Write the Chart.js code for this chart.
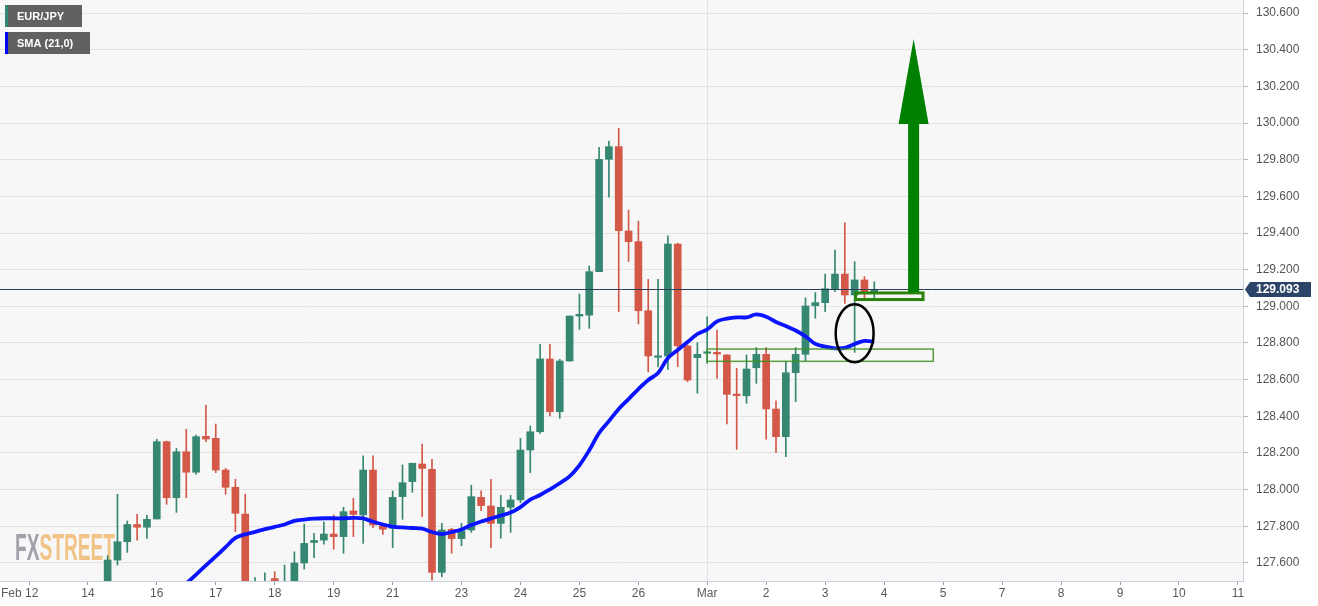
<!DOCTYPE html>
<html>
<head>
<meta charset="utf-8">
<script src="https://cdn.jsdelivr.net/npm/chart.js@4/dist/chart.umd.min.js"></script>
<style>
  html, body { margin: 0; padding: 0; background: #ffffff; }
  #wrap { width: 1318px; height: 606px; position: relative; }
</style>
</head>
<body>
<div id="wrap"><canvas id="c"></canvas></div>
<script>
// ---- Data (4-hour candles, slot index on the x axis) ----
const tickIndex  = [0, 6, 13, 19, 25, 31, 37, 44, 50, 56, 62, 69, 75, 81, 87, 93, 99, 105, 111, 117, 123];
const tickLabels = ['Feb 12','14','16','17','18','19','21','23','24','25','26','Mar','2','3','4','5','7','8','9','10','11'];

const candleStart = 8;
const opens = [
  127.400,127.616,127.716,127.810,127.795,127.840,128.262,127.956,128.207,128.095,
  128.291,128.280,128.107,128.013,127.867,127.440,127.470,127.515,127.470,127.495,
  127.600,127.712,127.725,127.758,127.744,127.884,127.862,128.107,127.802,127.789,
  127.962,128.044,128.140,128.111,127.549,127.784,127.733,127.780,127.958,127.911,
  127.816,127.904,127.944,128.216,128.316,128.713,128.425,128.702,128.947,128.952,
  129.189,129.802,129.871,129.411,129.353,128.976,128.722,128.729,129.340,128.784,
  128.720,128.744,128.749,128.735,128.518,128.512,128.665,128.738,128.440,128.289,
  128.638,128.738,129.004,129.020,129.096,129.176,129.062,129.144,129.071
];
const highs = [
  127.640,127.975,127.829,127.866,127.860,128.275,128.265,128.225,128.329,128.298,
  128.462,128.358,128.116,128.057,127.975,127.520,127.547,127.553,127.589,127.661,
  127.813,127.762,127.825,127.862,127.904,127.953,128.184,128.184,127.805,127.993,
  128.135,128.144,128.249,128.165,127.816,127.790,127.816,128.024,127.994,128.056,
  127.969,127.969,128.280,128.347,128.793,128.793,128.711,128.947,129.067,129.220,
  129.867,129.902,129.971,129.525,129.465,129.147,129.147,129.384,129.344,128.790,
  128.802,128.943,128.871,128.735,128.662,128.735,128.775,128.775,128.485,128.698,
  128.775,129.046,129.075,129.176,129.307,129.456,129.244,129.162,129.134
];
const lows = [
  127.360,127.589,127.658,127.725,127.734,127.840,127.920,127.876,127.956,128.084,
  128.262,128.093,127.975,127.771,127.400,127.400,127.420,127.430,127.450,127.470,
  127.567,127.629,127.703,127.675,127.653,127.744,127.707,127.793,127.756,127.684,
  127.838,127.986,127.853,127.507,127.525,127.653,127.694,127.767,127.885,127.684,
  127.735,127.767,127.929,128.093,128.307,128.402,128.389,128.700,128.874,128.880,
  129.189,129.595,128.971,129.244,128.904,128.643,128.670,128.656,128.671,128.589,
  128.526,128.689,128.607,128.358,128.220,128.471,128.580,128.275,128.202,128.180,
  128.480,128.702,128.935,128.971,129.080,129.016,128.749,129.044,129.044
];
const closes = [
  127.616,127.716,127.810,127.795,127.838,128.262,127.956,128.207,128.095,128.289,
  128.276,128.107,128.013,127.871,127.450,127.470,127.500,127.490,127.495,127.600,
  127.707,127.723,127.758,127.744,127.880,127.865,128.107,127.807,127.784,127.958,
  128.038,128.144,128.116,127.549,127.780,127.733,127.776,127.962,127.913,127.816,
  127.904,127.944,128.216,128.316,128.713,128.425,128.702,128.947,128.956,129.189,
  129.802,129.871,129.413,129.353,128.976,128.729,128.728,129.340,128.784,128.598,
  128.738,128.749,128.740,128.520,128.513,128.658,128.738,128.440,128.289,128.638,
  128.738,129.002,129.020,129.096,129.176,129.062,129.144,129.071,129.093
];

const smaStart = 15;
const smaValues = [
  127.440,127.488,127.537,127.587,127.636,127.686,127.737,127.756,127.770,127.785,
  127.797,127.810,127.830,127.837,127.842,127.844,127.844,127.844,127.846,127.843,
  127.825,127.810,127.799,127.794,127.791,127.788,127.769,127.758,127.769,127.783,
  127.807,127.826,127.843,127.859,127.875,127.905,127.946,127.971,128.002,128.035,
  128.073,128.133,128.215,128.309,128.374,128.440,128.494,128.549,128.598,128.636,
  128.718,128.762,128.805,128.849,128.874,128.918,128.933,128.940,128.940,128.956,
  128.943,128.915,128.893,128.868,128.836,128.795,128.780,128.771,128.773,128.795,
  128.811,128.807
];

const yTicks = [127.6,127.8,128.0,128.2,128.4,128.6,128.8,129.0,129.2,129.4,129.6,129.8,130.0,130.2,130.4,130.6];
const lastPrice = 129.093;
const legendLabels = ['EUR/JPY', 'SMA (21,0)'];

// annotations, in data units: [x1, x2] slot index, [y1, y2] price
const supportBoxX = [69, 92],   supportBoxY = [128.700, 128.767];
const baseBoxX    = [84.09, 90.96], baseBoxY = [129.037, 129.073];
const arrowX = 90.0, arrowY = [129.078, 129.995, 130.458]; // shaft bottom, head base, tip
const ellipseX = [82.07, 85.93], ellipseY = [128.695, 129.011];

// ---- Build datasets ----
const GREEN = 'rgb(54,135,114)', RED = 'rgb(212,88,71)';
const candleColor = i => closes[i] >= opens[i] ? GREEN : RED;
const bodies = opens.map((o, i) => ({ x: candleStart + i, y: [o, closes[i]] }));
const wicks  = lows.map((l, i) => ({ x: candleStart + i, y: [l, highs[i]] }));
const sma    = smaValues.map((v, i) => ({ x: smaStart + i, y: v }));

const FONT = '"Liberation Sans", Arial, sans-serif';

const bgPlugin = {
  id: 'bg',
  beforeDraw(chart) {
    const { ctx, chartArea: a } = chart;
    ctx.save();
    ctx.fillStyle = '#ffffff';
    ctx.fillRect(0, 0, chart.width, chart.height);
    ctx.fillStyle = '#f7f7f7';
    ctx.fillRect(a.left, a.top, a.right - a.left, a.bottom - a.top);
    ctx.restore();
  },
  beforeDatasetsDraw(chart) {
    // watermark
    const { ctx } = chart;
    ctx.save();
    ctx.font = 'bold 36px "Liberation Sans Narrow", "Liberation Sans", Arial, sans-serif';
    ctx.textBaseline = 'alphabetic';
    const w1 = ctx.measureText('FX').width, w2 = ctx.measureText('STREET').width;
    const sx = 100 / (w1 + w2);
    ctx.translate(15, 560);
    ctx.scale(sx, 1);
    ctx.fillStyle = '#a2a2ab';
    ctx.fillText('FX', 0, 0);
    ctx.fillStyle = '#f2c387';
    ctx.fillText('STREET', w1, 0);
    ctx.restore();
  },
  afterDatasetsDraw(chart) {
    const { ctx, chartArea: a } = chart;
    const xs = chart.scales.x, ys = chart.scales.y;
    const px = v => xs.getPixelForValue(v), py = v => ys.getPixelForValue(v);
    ctx.save();
    // last price line
    const yl = Math.round(py(lastPrice)) + 0.5;
    ctx.strokeStyle = '#2c3e5c';
    ctx.lineWidth = 1;
    ctx.beginPath(); ctx.moveTo(a.left, yl); ctx.lineTo(a.right, yl); ctx.stroke();

    // support zone (thin green rectangle)
    ctx.strokeStyle = 'rgba(60,145,30,0.85)';
    ctx.lineWidth = 1.5;
    ctx.strokeRect(px(supportBoxX[0]), py(supportBoxY[1]), px(supportBoxX[1]) - px(supportBoxX[0]), py(supportBoxY[0]) - py(supportBoxY[1]));

    // base box (thick green rectangle)
    ctx.strokeStyle = 'rgb(42,130,12)';
    ctx.lineWidth = 3;
    ctx.strokeRect(px(baseBoxX[0]), py(baseBoxY[1]), px(baseBoxX[1]) - px(baseBoxX[0]), py(baseBoxY[0]) - py(baseBoxY[1]));

    // arrow
    const ax = px(arrowX);
    ctx.fillStyle = '#008000';
    ctx.fillRect(ax - 5.5, py(arrowY[1]) - 1, 11, py(arrowY[0]) - py(arrowY[1]) + 1);
    ctx.beginPath();
    ctx.moveTo(ax - 15, py(arrowY[1]));
    ctx.lineTo(ax, py(arrowY[2]));
    ctx.lineTo(ax + 15, py(arrowY[1]));
    ctx.closePath();
    ctx.fill();

    // ellipse
    const ecx = (px(ellipseX[0]) + px(ellipseX[1])) / 2, ecy = (py(ellipseY[0]) + py(ellipseY[1])) / 2;
    ctx.strokeStyle = '#000000';
    ctx.lineWidth = 2.5;
    ctx.beginPath();
    ctx.ellipse(ecx, ecy, (px(ellipseX[1]) - px(ellipseX[0])) / 2, (py(ellipseY[0]) - py(ellipseY[1])) / 2, 0, 0, Math.PI * 2);
    ctx.stroke();
    ctx.restore();
  },
  afterDraw(chart) {
    const { ctx, chartArea: a } = chart;
    const xs = chart.scales.x, ys = chart.scales.y;
    ctx.save();
    // x-axis labels (the first one starts at the left edge, as in the source)
    ctx.font = '12px ' + FONT;
    ctx.fillStyle = '#5a5a5a';
    ctx.textAlign = 'left';
    ctx.textBaseline = 'middle';
    tickIndex.forEach((v, i) => {
      const w = ctx.measureText(tickLabels[i]).width;
      const x = i === 0 ? 1 : xs.getPixelForValue(v) - w / 2;
      ctx.fillText(tickLabels[i], x, a.bottom + 12.5);
    });

    // price tag
    const yl = Math.round(ys.getPixelForValue(lastPrice)) + 0.5;
    ctx.fillStyle = '#2b4467';
    ctx.beginPath();
    ctx.moveTo(a.right + 2, yl);
    ctx.lineTo(a.right + 7, yl - 7.5);
    ctx.lineTo(a.right + 68, yl - 7.5);
    ctx.lineTo(a.right + 68, yl + 7.5);
    ctx.lineTo(a.right + 7, yl + 7.5);
    ctx.closePath();
    ctx.fill();
    ctx.fillStyle = '#ffffff';
    ctx.font = 'bold 12px ' + FONT;
    ctx.fillText(lastPrice.toFixed(3), a.right + 13, yl + 0.5);

    // legend boxes
    const boxes = [
      { y: 5, w: 77, color: GREEN },
      { y: 32, w: 85, color: '#0000ff' }
    ];
    ctx.font = 'bold 11px ' + FONT;
    boxes.forEach((b, i) => {
      ctx.fillStyle = 'rgba(88,88,88,0.95)';
      ctx.fillRect(5, b.y, b.w, 22);
      ctx.fillStyle = b.color;
      ctx.fillRect(5, b.y, 3, 22);
      ctx.fillStyle = '#ffffff';
      ctx.fillText(legendLabels[i], 17, b.y + 11.5);
    });
    ctx.restore();
  }
};

new Chart(document.getElementById('c'), {
  data: {
    datasets: [
      {
        type: 'line', data: sma, borderColor: '#0a14ff', borderWidth: 3.8,
        pointRadius: 0, tension: 0.35, order: -1, fill: false
      },
      {
        type: 'bar', data: bodies, grouped: false, barThickness: 7, minBarLength: 1.5,
        backgroundColor: ctx => candleColor(ctx.dataIndex), borderWidth: 0, order: 0
      },
      {
        type: 'bar', data: wicks, grouped: false, barThickness: 1,
        backgroundColor: ctx => candleColor(ctx.dataIndex), borderWidth: 0, order: 1
      }
    ]
  },
  options: {
    responsive: true,
    maintainAspectRatio: false,
    animation: false,
    layout: { padding: 0 },
    plugins: { legend: { display: false }, tooltip: { enabled: false } },
    scales: {
      x: {
        type: 'linear',
        offset: false,
        min: -29 / 9.829,
        max: (1243 - 29) / 9.829,
        afterBuildTicks: s => { s.ticks = tickIndex.map(v => ({ value: v })); },
        afterFit: s => { s.height = 25; s.paddingLeft = 0; s.paddingRight = 0; s.paddingTop = 0; s.paddingBottom = 0; },
        ticks: {
          display: false, autoSkip: false, maxRotation: 0
        },
        grid: {
          offset: false,
          color: c => (c.tick && c.tick.value === 69) ? '#e2e2e2' : 'rgba(0,0,0,0)',
          tickColor: '#9aa0ad', tickLength: 4, drawTicks: true
        },
        border: { display: true, color: '#c9cfdc' }
      },
      y: {
        type: 'linear',
        position: 'right',
        min: 127.6 - 18 / 183.33,
        max: 130.6 + 13 / 183.33,
        afterBuildTicks: s => { s.ticks = yTicks.map(v => ({ value: v })); },
        afterFit: s => { s.width = 75; s.paddingLeft = 0; s.paddingRight = 0; s.paddingTop = 0; s.paddingBottom = 0; },
        ticks: {
          padding: 8, color: '#555555', font: { family: FONT, size: 12 },
          callback: v => Number(v).toFixed(3)
        },
        grid: { color: '#e3e3e3', tickColor: '#b5b5b5', tickLength: 5 },
        border: { display: true, color: '#c9cfdc' }
      }
    }
  },
  plugins: [bgPlugin]
});
</script>
</body>
</html>
